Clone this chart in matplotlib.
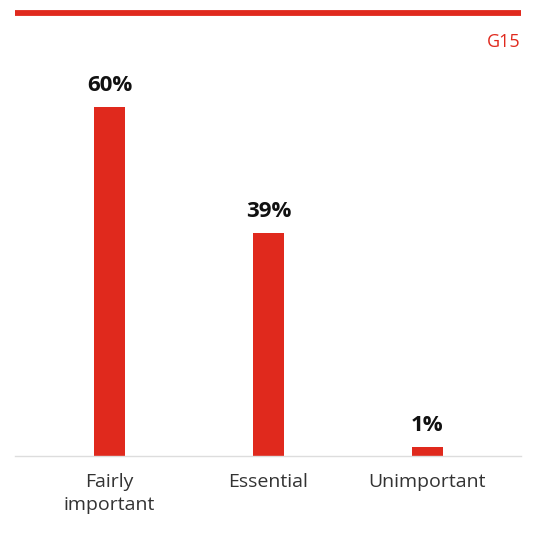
import matplotlib.pyplot as plt

categories = ["Fairly\nimportant", "Essential", "Unimportant"]
bar_heights = [60, 38.3, 1.5]
labels = ["60%", "39%", "1%"]

red = "#e0291d"
W, H = 535, 557

fig = plt.figure(figsize=(W / 100, H / 100), dpi=100)
plt.rcParams["font.family"] = ["Open Sans", "DejaVu Sans"]

# axes in pixel coords: x 15..521, baseline at y=456
left, right, bottom, top = 15, 521, 456, 60
ax = fig.add_axes([left / W, 1 - bottom / H, (right - left) / W, (bottom - top) / H])

x = range(len(bar_heights))
ax.bar(x, bar_heights, width=0.195, color=red)
ax.set_xlim(-0.594, 2.588)
ax.set_ylim(0, 60 * (bottom - top) / 349)

for xi, v, lab in zip(x, bar_heights, labels):
    ax.annotate(lab, (xi, v), xytext=(0, 11), textcoords="offset pixels",
                ha="center", va="bottom", fontsize=16, fontweight="bold", color="#111111")

ax.set_xticks(list(x))
ax.set_xticklabels(categories, fontsize=14, color="#333333", linespacing=1.4)
ax.tick_params(axis="x", length=0, pad=12)
ax.set_yticks([])
for s in ["top", "left", "right"]:
    ax.spines[s].set_visible(False)
ax.spines["bottom"].set_color("#dddddd")
ax.spines["bottom"].set_linewidth(1)

# top red rule and code
fig.add_artist(plt.Line2D([left / W, right / W], [1 - 13 / H, 1 - 13 / H],
                          color=red, linewidth=4.2, solid_capstyle="butt"))
fig.text(521 / W, 1 - 47 / H, "G15", ha="right", va="baseline", fontsize=13, color=red)

fig.savefig("out.png", dpi=100)
